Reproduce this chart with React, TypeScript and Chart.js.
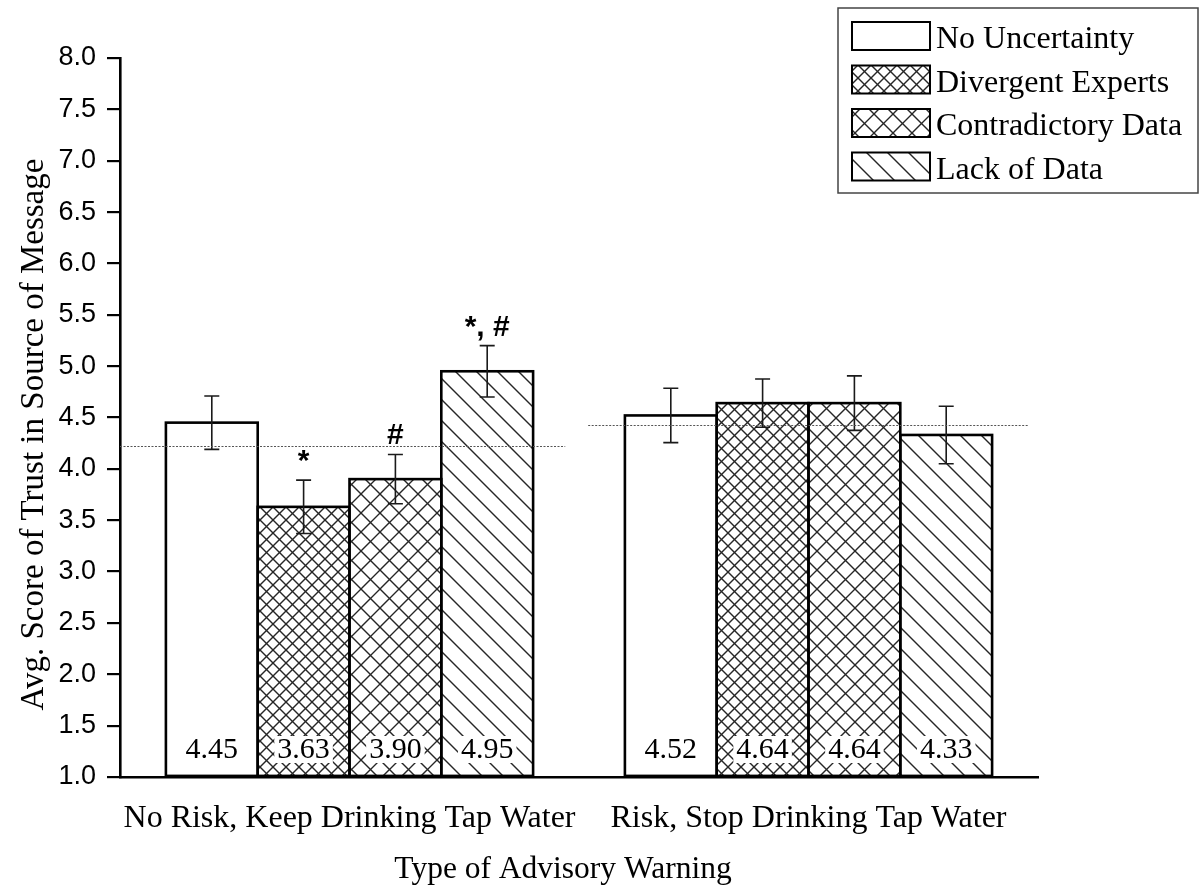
import React, { useEffect, useRef } from "react";
import { Chart, registerables } from "chart.js";

Chart.register(...registerables);

// ---- data ----
const categories = ["No Risk, Keep Drinking Tap Water", "Risk, Stop Drinking Tap Water"];
const seriesNames = ["No Uncertainty", "Divergent Experts", "Contradictory Data", "Lack of Data"];

const noUncertainty = [4.45, 4.52];
const divergentExperts = [3.63, 4.64];
const contradictoryData = [3.9, 4.64];
const lackOfData = [4.95, 4.33];

const noUncertaintyErr = [0.26, 0.265];
const divergentExpertsErr = [0.26, 0.235];
const contradictoryDataErr = [0.24, 0.265];
const lackOfDataErr = [0.25, 0.28];

const noUncertaintyMarks = ["", ""];
const divergentExpertsMarks = ["*", ""];
const contradictoryDataMarks = ["#", ""];
const lackOfDataMarks = ["*, #", ""];

// group-wide reference mean drawn as a dotted line
const groupMeans = [4.22, 4.43];

const yMin = 1.0;
const yMax = 8.0;
const yStep = 0.5;

const xTitle = "Type of Advisory Warning";
const yTitle = "Avg. Score of Trust in Source of Message";

const seriesValues = [noUncertainty, divergentExperts, contradictoryData, lackOfData];
const seriesErrors = [noUncertaintyErr, divergentExpertsErr, contradictoryDataErr, lackOfDataErr];
const seriesMarks = [noUncertaintyMarks, divergentExpertsMarks, contradictoryDataMarks, lackOfDataMarks];

// ---- styles ----
const SERIF = "'Liberation Serif', 'Times New Roman', serif";
const SANS = "'Liberation Sans', Arial, sans-serif";
const HATCH_COLOR = "#262626";

type Dir = "\\" | "/";

function makeHatch(size: number, dirs: Dir[]): CanvasPattern | string {
  const tile = document.createElement("canvas");
  tile.width = size;
  tile.height = size;
  const c = tile.getContext("2d");
  if (!c) return "#fff";
  c.fillStyle = "#fff";
  c.fillRect(0, 0, size, size);
  c.strokeStyle = HATCH_COLOR;
  c.lineWidth = 1.4;
  c.lineCap = "square";
  for (const d of dirs) {
    for (const o of [-size, 0, size]) {
      c.beginPath();
      if (d === "\\") {
        c.moveTo(o, 0);
        c.lineTo(o + size, size);
      } else {
        c.moveTo(o, size);
        c.lineTo(o + size, 0);
      }
      c.stroke();
    }
  }
  const p = c.createPattern(tile, "repeat");
  return p || "#fff";
}

function makeFills(): (CanvasPattern | string)[] {
  return [
    "#ffffff",
    makeHatch(13, ["\\", "/"]),
    makeHatch(19, ["\\", "/"]),
    makeHatch(21, ["\\"]),
  ];
}

// outlines, value labels, error bars, significance marks and group mean lines
const barDecorations = {
  id: "barDecorations",
  afterDatasetsDraw(chart: any) {
    const ctx: CanvasRenderingContext2D = chart.ctx;
    const xs = chart.scales.x;
    const ys = chart.scales.y;
    const area = chart.chartArea;

    ctx.save();

    // bar outlines
    ctx.strokeStyle = "#000";
    ctx.lineWidth = 2.6;
    ctx.lineJoin = "miter";
    chart.data.datasets.forEach((_ds: any, di: number) => {
      const meta = chart.getDatasetMeta(di);
      meta.data.forEach((bar: any) => {
        const { x, y, base, width } = bar.getProps(["x", "y", "base", "width"], true);
        ctx.strokeRect(x - width / 2, y, width, base - y);
      });
    });

    // value labels at the foot of each bar
    ctx.font = `30px ${SERIF}`;
    ctx.textAlign = "center";
    ctx.textBaseline = "alphabetic";
    chart.data.datasets.forEach((_ds: any, di: number) => {
      const meta = chart.getDatasetMeta(di);
      meta.data.forEach((bar: any, i: number) => {
        const { x } = bar.getProps(["x"], true);
        const text = seriesValues[di][i].toFixed(2);
        const w = ctx.measureText(text).width;
        const baseY = area.bottom - 19;
        ctx.fillStyle = "#fff";
        ctx.fillRect(x - w / 2 - 3, baseY - 22, w + 6, 27);
        ctx.fillStyle = "#000";
        ctx.fillText(text, x, baseY);
      });
    });

    // error bars
    ctx.strokeStyle = "#1a1a1a";
    ctx.lineWidth = 1.6;
    const cap = 7.5;
    chart.data.datasets.forEach((_ds: any, di: number) => {
      const meta = chart.getDatasetMeta(di);
      meta.data.forEach((bar: any, i: number) => {
        const { x } = bar.getProps(["x"], true);
        const v = seriesValues[di][i];
        const e = seriesErrors[di][i];
        const top = ys.getPixelForValue(v + e);
        const bot = ys.getPixelForValue(v - e);
        ctx.beginPath();
        ctx.moveTo(x, top);
        ctx.lineTo(x, bot);
        ctx.moveTo(x - cap, top);
        ctx.lineTo(x + cap, top);
        ctx.moveTo(x - cap, bot);
        ctx.lineTo(x + cap, bot);
        ctx.stroke();
      });
    });

    // significance marks above the error bars
    ctx.fillStyle = "#000";
    ctx.font = `bold 30px ${SANS}`;
    ctx.textAlign = "center";
    ctx.textBaseline = "alphabetic";
    chart.data.datasets.forEach((_ds: any, di: number) => {
      const meta = chart.getDatasetMeta(di);
      meta.data.forEach((bar: any, i: number) => {
        const mark = seriesMarks[di][i];
        if (!mark) return;
        const { x } = bar.getProps(["x"], true);
        const top = ys.getPixelForValue(seriesValues[di][i] + seriesErrors[di][i]);
        ctx.fillText(mark, x, top - 10);
      });
    });

    // dotted group mean lines
    const spans = [
      [-0.5, 0.47],
      [-0.48, 0.48],
    ];
    ctx.strokeStyle = "#555";
    ctx.lineWidth = 1.2;
    ctx.setLineDash([2, 1.5]);
    groupMeans.forEach((m, g) => {
      const py = Math.round(ys.getPixelForValue(m)) + 0.5;
      ctx.beginPath();
      ctx.moveTo(xs.getPixelForValue(g + spans[g][0]), py);
      ctx.lineTo(xs.getPixelForValue(g + spans[g][1]), py);
      ctx.stroke();
    });
    ctx.setLineDash([]);

    ctx.restore();
  },
};

// axis titles
const axisTitles = {
  id: "axisTitles",
  afterDraw(chart: any) {
    const ctx: CanvasRenderingContext2D = chart.ctx;
    const area = chart.chartArea;
    ctx.save();
    ctx.fillStyle = "#000";
    ctx.textAlign = "center";
    ctx.textBaseline = "alphabetic";
    ctx.font = `31.5px ${SERIF}`;
    ctx.fillText(xTitle, (area.left + area.right) / 2 - 16, 878);
    ctx.font = `33px ${SERIF}`;
    ctx.translate(43, (area.top + area.bottom) / 2 + 17);
    ctx.rotate(-Math.PI / 2);
    ctx.fillText(yTitle, 0, 0);
    ctx.restore();
  },
};

// boxed legend with patterned swatches
const boxedLegend = {
  id: "boxedLegend",
  afterDraw(chart: any) {
    const ctx: CanvasRenderingContext2D = chart.ctx;
    const x0 = chart.width - 364;
    const y0 = 8;
    const w = 360;
    const h = 185;
    ctx.save();
    ctx.fillStyle = "#fff";
    ctx.fillRect(x0, y0, w, h);
    ctx.strokeStyle = "#444";
    ctx.lineWidth = 1.5;
    ctx.strokeRect(x0, y0, w, h);
    ctx.font = `32px ${SERIF}`;
    ctx.textAlign = "left";
    ctx.textBaseline = "alphabetic";
    chart.data.datasets.forEach((ds: any, i: number) => {
      const sy = y0 + 14 + i * 43.5;
      const sx = x0 + 14;
      ctx.fillStyle = ds.backgroundColor;
      ctx.fillRect(sx, sy, 78, 28);
      ctx.strokeStyle = "#000";
      ctx.lineWidth = 2;
      ctx.strokeRect(sx, sy, 78, 28);
      ctx.fillStyle = "#000";
      ctx.fillText(ds.label, sx + 84, sy + 26);
    });
    ctx.restore();
  },
};

export default function App() {
  const canvasRef = useRef<HTMLCanvasElement>(null);

  useEffect(() => {
    const canvas = canvasRef.current;
    if (!canvas) return;
    const fills = makeFills();
    const chart = new Chart(canvas, {
      type: "bar",
      data: {
        labels: categories,
        datasets: seriesNames.map((name, i) => ({
          label: name,
          data: seriesValues[i],
          base: yMin,
          backgroundColor: fills[i] as any,
          borderWidth: 0,
          categoryPercentage: 0.8,
          barPercentage: 1.0,
        })),
      },
      options: {
        responsive: false,
        animation: false,
        devicePixelRatio: 1,
        layout: { padding: { top: 58, right: 164, left: 0, bottom: 0 } },
        plugins: {
          legend: { display: false },
          tooltip: { enabled: false },
          title: { display: false },
        },
        scales: {
          x: {
            type: "category",
            offset: true,
            grid: { display: false },
            border: { display: true, color: "#000", width: 2.6 },
            ticks: {
              color: "#000",
              font: { family: SERIF, size: 32, lineHeight: 1 },
              padding: 18,
              maxRotation: 0,
              autoSkip: false,
            },
            afterFit: (s: any) => {
              s.height = 108;
            },
          },
          y: {
            type: "linear",
            min: yMin,
            max: yMax,
            ticks: {
              stepSize: yStep,
              color: "#000",
              font: { family: SANS, size: 27 },
              padding: 11,
              callback: (v: any) => Number(v).toFixed(1),
            },
            grid: {
              display: true,
              drawOnChartArea: false,
              drawTicks: true,
              tickLength: 13,
              color: "#000",
              lineWidth: 2.2,
            },
            border: { display: true, color: "#000", width: 2.6 },
            afterFit: (s: any) => {
              s.width = 120;
            },
          },
        },
      },
      plugins: [barDecorations, axisTitles, boxedLegend],
    });
    return () => chart.destroy();
  }, []);

  return (
    <div style={{ position: "fixed", left: 0, top: 0, width: 1202, height: 885, background: "#fff" }}>
      <canvas ref={canvasRef} width={1202} height={885} style={{ display: "block", width: 1202, height: 885 }} />
    </div>
  );
}
